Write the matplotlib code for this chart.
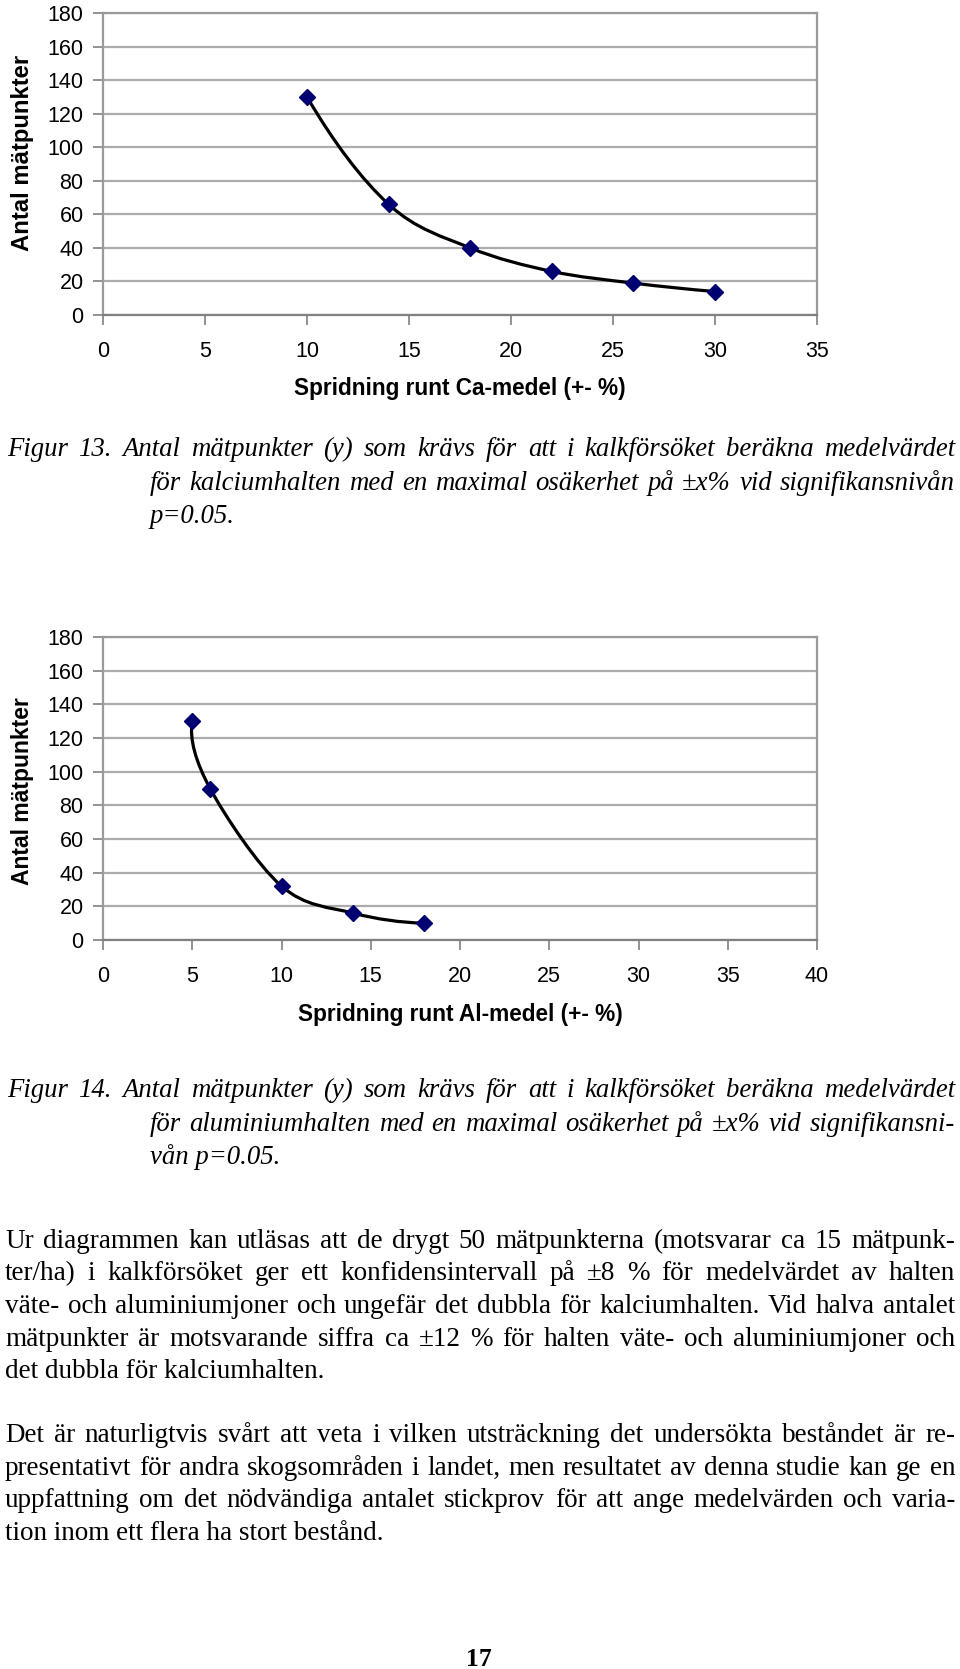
import matplotlib
matplotlib.use("Agg")
import matplotlib.pyplot as plt
from matplotlib.path import Path
from matplotlib.patches import PathPatch
import numpy as np

# ---------------- data ----------------
ca_x = [10, 14, 18, 22, 26, 30]
ca_y = [130, 66, 40, 26, 19, 14]
al_x = [5, 6, 10, 14, 18]
al_y = [130, 90, 32, 16, 10]

y_ticks = [0, 20, 40, 60, 80, 100, 120, 140, 160, 180]
ca_xticks = [0, 5, 10, 15, 20, 25, 30, 35]
al_xticks = [0, 5, 10, 15, 20, 25, 30, 35, 40]

ylabel = "Antal mätpunkter"
ca_xlabel = "Spridning runt Ca-medel (+- %)"
al_xlabel = "Spridning runt Al-medel (+- %)"

cap13 = ["Figur 13. Antal mätpunkter (y) som krävs för att i kalkförsöket beräkna medelvärdet",
         "för kalciumhalten med en maximal osäkerhet på ±x% vid signifikansnivån",
         "p=0.05."]
cap14 = ["Figur 14. Antal mätpunkter (y) som krävs för att i kalkförsöket beräkna medelvärdet",
         "för aluminiumhalten med en maximal osäkerhet på ±x% vid signifikansni-",
         "vån p=0.05."]
para1 = ["Ur diagrammen kan utläsas att de drygt 50 mätpunkterna (motsvarar ca 15 mätpunk-",
         "ter/ha) i kalkförsöket ger ett konfidensintervall på ±8 % för medelvärdet av halten",
         "väte- och aluminiumjoner och ungefär det dubbla för kalciumhalten. Vid halva antalet",
         "mätpunkter är motsvarande siffra ca ±12 % för halten väte- och aluminiumjoner och",
         "det dubbla för kalciumhalten."]
para2 = ["Det är naturligtvis svårt att veta i vilken utsträckning det undersökta beståndet är re-",
         "presentativt för andra skogsområden i landet, men resultatet av denna studie kan ge en",
         "uppfattning om det nödvändiga antalet stickprov för att ange medelvärden och varia-",
         "tion inom ett flera ha stort bestånd."]
page_no = "17"

# ---------------- figure ----------------
W, H = 960, 1669
fig = plt.figure(figsize=(W / 100, H / 100), dpi=100)
fig.patch.set_facecolor("white")


def ax_rect(left, right, top, bottom):
    return [left / W, 1 - bottom / H, (right - left) / W, (bottom - top) / H]


def smooth_path(xs, ys):
    pts = np.column_stack([xs, ys]).astype(float)
    n = len(pts)
    tang = []
    for i in range(n):
        if 0 < i < n - 1:
            tang.append((pts[i + 1] - pts[i - 1]) / 2.0)
        else:
            tang.append(None)
    if n >= 3:
        tang[0] = 2 * (pts[1] - pts[0]) - tang[1]
        tang[-1] = 2 * (pts[-1] - pts[-2]) - tang[-2]
    else:
        tang[0] = tang[-1] = pts[-1] - pts[0]
    verts = [pts[0]]
    codes = [Path.MOVETO]
    for i in range(n - 1):
        c1 = pts[i] + tang[i] / 3.0
        c2 = pts[i + 1] - tang[i + 1] / 3.0
        verts += [c1, c2, pts[i + 1]]
        codes += [Path.CURVE4] * 3
    return Path(verts, codes)


def make_chart(rect, xs, ys, xticks):
    ax = fig.add_axes(rect)
    ax.set_xlim(xticks[0], xticks[-1])
    ax.set_ylim(0, 180)
    ax.set_xticks(xticks)
    ax.set_yticks(y_ticks)
    ax.yaxis.grid(True, color="#ababab", linewidth=1.6)
    ax.set_axisbelow(True)
    for s in ["left", "top", "right"]:
        ax.spines[s].set_color("#9a9a9a")
        ax.spines[s].set_linewidth(1.6)
    ax.spines["bottom"].set_color("#808080")
    ax.spines["bottom"].set_linewidth(1.6)
    ax.tick_params(axis="both", colors="#808080", length=7, width=1.2,
                   labelcolor="black", labelsize=15.5)
    ax.tick_params(axis="x", pad=12)
    ax.tick_params(axis="y", pad=7)
    for lab in ax.get_xticklabels() + ax.get_yticklabels():
        lab.set_fontfamily("Liberation Sans")
    patch = PathPatch(smooth_path(xs, ys), facecolor="none", edgecolor="black",
                      linewidth=2.3, transform=ax.transData, zorder=3, clip_on=False,
                      capstyle="round", joinstyle="round")
    ax.add_patch(patch)
    ax.plot(xs, ys, linestyle="none", marker="D", markersize=8.5,
            markerfacecolor="#000070", markeredgecolor="#000070", zorder=4, clip_on=False)
    return ax


ax1 = make_chart(ax_rect(103, 817, 13, 315), ca_x, ca_y, ca_xticks)
ax2 = make_chart(ax_rect(103, 817, 637, 940), al_x, al_y, al_xticks)

sans = dict(family="Liberation Sans", fontweight="bold", color="black")
fig.text(23 / W, 1 - 153 / H, ylabel, rotation=90, ha="center", va="center",
         fontsize=17.2, **sans)
fig.text(460 / W, 1 - 388 / H, ca_xlabel, ha="center", va="center", fontsize=16.3, **sans)
fig.text(23 / W, 1 - 791 / H, ylabel, rotation=90, ha="center", va="center",
         fontsize=16.5, **sans)
fig.text(460 / W, 1 - 1014 / H, al_xlabel, ha="center", va="center", fontsize=16.3, **sans)

# ---------------- text ----------------
renderer = fig.canvas.get_renderer()
serif = dict(family="Liberation Serif", fontsize=19.5, color="black")
serif_it = dict(family="Liberation Serif", fontsize=19.3, style="italic", color="black")


def place_line(line, x0, x1, base, props, justify=True):
    words = line.split(" ")
    yf = 1 - base / H
    if not justify or len(words) == 1:
        fig.text(x0 / W, yf, line, va="baseline", ha="left", **props)
        return
    texts = [fig.text(0, yf, w, va="baseline", ha="left", **props) for w in words]
    widths = [t.get_window_extent(renderer).width for t in texts]
    gap = (x1 - x0 - sum(widths)) / (len(words) - 1)
    x = x0
    for t, w in zip(texts, widths):
        t.set_x(x / W)
        x += w + gap


def caption(lines, bases):
    for i, (ln, b) in enumerate(zip(lines, bases)):
        x0 = 7 if i == 0 else 150
        place_line(ln, x0, 955, b, serif_it, justify=(i < len(lines) - 1))


caption(cap13, [456, 490, 523])
caption(cap14, [1097, 1131, 1164])

for i, (ln, b) in enumerate(zip(para1, [1248, 1280.5, 1313, 1345.5, 1378])):
    place_line(ln, 5, 955, b, serif, justify=(i < len(para1) - 1))
for i, (ln, b) in enumerate(zip(para2, [1442, 1474.5, 1507, 1539.5])):
    place_line(ln, 5, 955, b, serif, justify=(i < len(para2) - 1))

fig.text(479 / W, 1 - 1666 / H, page_no, ha="center", va="baseline",
         family="Liberation Serif", fontweight="bold", fontsize=18.5, color="black")

fig.savefig("out.png", dpi=100, facecolor="white")
